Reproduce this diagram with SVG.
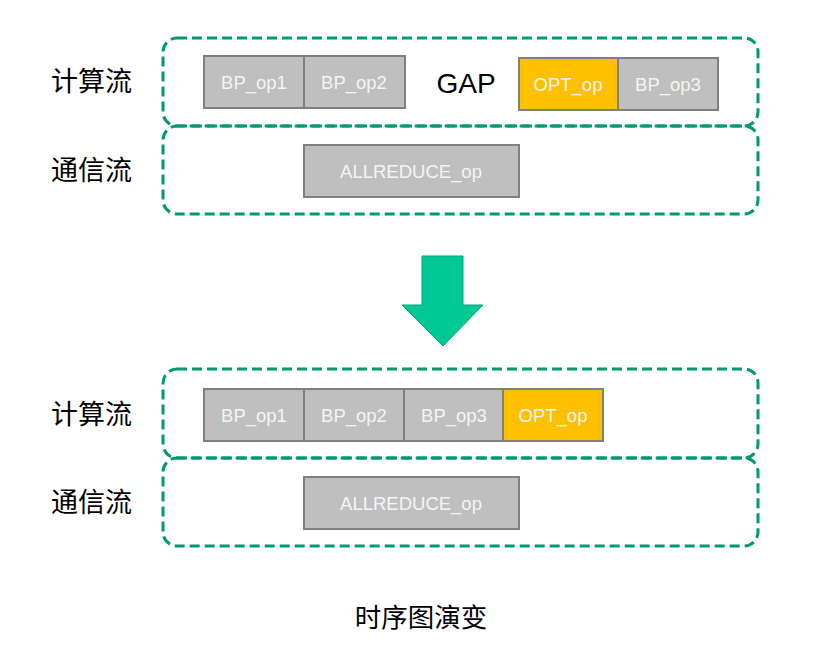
<svg xmlns="http://www.w3.org/2000/svg" width="817" height="655" viewBox="0 0 817 655">
<style>
.lane{fill:none;stroke:#009a6e;stroke-width:3;stroke-dasharray:10 5}
.op{fill:#bfbfbf;stroke:#7f7f7f;stroke-width:2}
.opt{fill:#ffc000;stroke:#7f7f7f;stroke-width:2}
.t{font-family:"Liberation Sans",Arial,sans-serif;font-size:18.5px;fill:#f4f4f4;text-anchor:middle}
.lbl{font-family:"Noto Sans CJK SC",sans-serif;font-size:27px;fill:#000000}
</style>
<rect width="817" height="655" fill="#ffffff"/>
<g id="lanes">
<rect id="top-compute" class="lane" x="163" y="38" width="595" height="88" rx="14"/>
<rect id="top-comm" class="lane" x="163" y="126" width="595" height="88" rx="14"/>
<rect id="bot-compute" class="lane" x="163" y="369" width="595" height="89" rx="14"/>
<rect id="bot-comm" class="lane" x="163" y="458" width="595" height="88" rx="14"/>
</g>
<g id="labels">
<text class="lbl" x="51" y="91">计算流</text>
<text class="lbl" x="51" y="180">通信流</text>
<text class="lbl" x="51" y="424">计算流</text>
<text class="lbl" x="51" y="512">通信流</text>
<text x="421" y="627" font-family="'Noto Sans CJK SC',sans-serif" font-size="26.5" text-anchor="middle" fill="#000">时序图演变</text>
</g>
<g id="t-bp1"><rect class="op" x="204" y="56" width="100" height="52"/><text class="t" x="254" y="88.5">BP_op1</text></g>
<g id="t-bp2"><rect class="op" x="304" y="56" width="101" height="52"/><text class="t" x="354" y="88.5">BP_op2</text></g>
<g id="t-gap"><text x="466" y="93" font-family="'Liberation Sans',Arial,sans-serif" font-size="28" text-anchor="middle" fill="#000">GAP</text></g>
<g id="t-opt"><rect class="opt" x="519" y="58" width="99" height="52"/><text class="t" x="568" y="90.5">OPT_op</text></g>
<g id="t-bp3"><rect class="op" x="618" y="58" width="100" height="52"/><text class="t" x="668" y="90.5">BP_op3</text></g>
<g id="t-allreduce"><rect class="op" x="304" y="145" width="215" height="52"/><text class="t" x="411" y="177.5">ALLREDUCE_op</text></g>
<g id="arrow"><polygon points="422,256 463,256 463,305 483,305 443,346 402,305 422,305" fill="#00c994" stroke="#00a57a" stroke-width="1"/></g>
<g id="b-bp1"><rect class="op" x="204" y="389" width="100" height="52"/><text class="t" x="254" y="421.5">BP_op1</text></g>
<g id="b-bp2"><rect class="op" x="304" y="389" width="100" height="52"/><text class="t" x="354" y="421.5">BP_op2</text></g>
<g id="b-bp3"><rect class="op" x="404" y="389" width="99" height="52"/><text class="t" x="454" y="421.5">BP_op3</text></g>
<g id="b-opt"><rect class="opt" x="503" y="389" width="100" height="52"/><text class="t" x="553" y="421.5">OPT_op</text></g>
<g id="b-allreduce"><rect class="op" x="304" y="477" width="215" height="52"/><text class="t" x="411" y="509.5">ALLREDUCE_op</text></g>
</svg>
